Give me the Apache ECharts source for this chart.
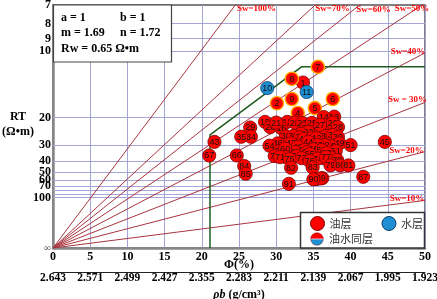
<!DOCTYPE html>
<html>
<head>
<meta charset="utf-8">
<script src="https://cdn.jsdelivr.net/npm/echarts@6.0.0/dist/echarts.min.js"></script>
<style>
html,body{margin:0;padding:0;background:#fff;}
#chart{width:437px;height:299px;}
</style>
</head>
<body>
<div id="chart"></div>
<script>
// Archie parameters shown in the box
const paramA = 1, paramB = 1, paramM = 1.69, paramN = 1.72, paramRw = 0.65;

// axis tick labels
const rhoLabels = ['2.643','2.571','2.499','2.427','2.355','2.283','2.211','2.139','2.067','1.995','1.923'];
const rtLabelValues = [7, 8, 9, 10, 20, 30, 40, 50, 60, 70, 100];
const rtGridValues = [8, 9, 10, 20, 30, 40, 50, 60, 70, 80, 90, 100];

// water saturation lines
const swValues = [100, 70, 60, 50, 40, 30, 20, 10];
const swLabelTexts = ['Sw=100%', 'Sw=70%', 'Sw=60%', 'Sw=50%', 'Sw=40%', 'Sw = 30%', 'Sw=20%', 'Sw=10%'];

// cutoff boundary (green)
const cutoffPhi = [21.1, 21.1, 33.4, 50];
const cutoffRt = [Infinity, 25.5, 11.5, 11.5];

// 油层 points
const oilIds = [1,2,3,4,5,6,7,8,9,12,13,14,15,16,17,18,19,20,21,22,23,24,25,26,27,28,29,30,31,32,33,34,35,36,37,38,39,40,41,42,43,44,45,46,47,48,49,50,51,52,53,54,55,56,57,58,59,60,61,62,63,64,65,66,67,68,69,70,71,72,73,74,75,76,77,78,79,80,81,82,83,84,85,86,87,88,89,90,91];
const oilPhi = [33.6,30.1,33.2,32.9,35.2,37.6,35.6,32.1,32.1,31.5,37.8,36.4,35.4,30.7,37.0,34.1,28.5,29.2,30.0,32.5,33.5,34.0,34.8,37.6,35.9,38.3,26.5,36.7,37.6,34.3,33.3,26.6,25.3,31.3,32.3,33.2,38.3,33.7,34.8,35.4,21.7,34.3,44.6,30.2,32.0,32.9,38.5,37.4,40.0,36.5,35.6,29.1,33.8,35.0,36.1,30.5,32.5,31.2,38.0,36.8,34.1,32.8,34.5,24.7,21.0,31.3,36.3,29.8,30.5,37.4,33.4,35.6,31.8,34.5,36.7,38.2,37.3,38.6,39.7,32.0,34.9,25.7,25.9,36.2,41.7,35.4,36.0,35.0,31.7];
const oilRt = [13.4,16.8,23.1,18.9,17.8,16.0,11.5,12.9,16.0,21.2,19.8,19.9,22.8,23.1,23.1,22.8,21.2,22.8,21.4,21.4,21.5,23.1,21.5,21.5,22.1,22.8,22.9,25.9,25.5,24.4,25.1,26.2,26.2,26.1,25.9,26.4,26.4,27.2,26.8,26.8,28.4,28.4,28.4,29.1,29.1,30.8,29.1,30.4,29.9,29.9,29.9,30.2,32.5,32.1,32.5,33.1,33.7,31.7,33.1,34.3,33.7,36.2,34.9,35.8,35.8,36.9,37.6,36.2,36.9,37.2,37.6,37.9,38.3,39.8,36.9,39.0,43.4,43.4,43.4,45.5,45.3,43.9,51.9,57.5,55.7,58.9,57.9,59.2,66.4];

// 水层 points
const waterIds = [10, 11];
const waterPhi = [28.8, 34.1];
const waterRt = [14.2, 14.8];

// 油水同层 points (none plotted)
const mixedIds = [];
const mixedPhi = [];
const mixedRt = [];

// points drawn with an orange rim
const outlinedIds = [2, 4, 5, 6, 7, 8, 9];

// ---- transforms (Hingle plot: y = Rt^(-1/m)) ----
const tr = rt => Math.pow(rt, -1 / paramM);
const yMax = tr(rtLabelValues[0]);
const swCoef = sw => Math.pow(Math.pow(sw / 100, paramN) / (paramA * paramB * paramRw), 1 / paramM);

const SERIF = '"Liberation Serif","Times New Roman",serif';
const SANS = '"Liberation Sans",Arial,sans-serif';

function pointSeries(name, ids, phis, rts, fill, stroke, z) {
  return {
    type: 'custom', name: name, coordinateSystem: 'cartesian2d', xAxisIndex: 0, yAxisIndex: 0,
    z: z, silent: true, clip: false,
    itemStyle: { color: fill },
    encode: { x: 0, y: 1 },
    data: ids.map((id, i) => [phis[i], tr(rts[i]), id]),
    renderItem: function (params, api) {
      const p = api.coord([api.value(0), api.value(1)]);
      const id = api.value(2);
      const k = params.dataIndex;
      const rim = outlinedIds.indexOf(id) >= 0;
      return {
        type: 'group',
        children: [
          { type: 'circle', shape: { cx: p[0], cy: p[1], r: 6.6 },
            style: { fill: fill, stroke: rim ? '#ffa800' : stroke, lineWidth: rim ? 1.4 : 0.8 }, z2: k * 2 },
          { type: 'text', x: p[0], y: p[1] + 0.5,
            style: { text: String(id), fill: '#111', fontSize: 9, fontFamily: SANS,
                     align: 'center', verticalAlign: 'middle', textAlign: 'center', textVerticalAlign: 'middle' },
            z2: k * 2 + 1 }
        ]
      };
    }
  };
}

const halfSvg = "<svg xmlns='http://www.w3.org/2000/svg' width='30' height='30'>" +
  "<path d='M1.5,15 A13.5,13.5 0 0 1 28.5,15 Z' fill='#ff0000'/>" +
  "<path d='M1.5,15 A13.5,13.5 0 0 0 28.5,15 Z' fill='#1f8fd4'/>" +
  "<line x1='1' y1='15' x2='29' y2='15' stroke='#ffffff' stroke-width='1.5'/>" +
  "<circle cx='15' cy='15' r='13.5' fill='none' stroke='#7a1010' stroke-width='1'/></svg>";
const halfIcon = 'image://data:image/svg+xml;base64,' + btoa(halfSvg);

const series = [];
// horizontal grid lines
series.push({
  type: 'lines', coordinateSystem: 'cartesian2d', silent: true, z: 1,
  lineStyle: { color: '#a6a6d6', width: 1, opacity: 1 },
  data: rtGridValues.map(r => ({ coords: [[0, tr(r)], [50, tr(r)]] }))
});
// Sw lines
swValues.forEach(sw => {
  series.push({
    type: 'line', silent: true, z: 2, symbol: 'none', clip: true,
    lineStyle: { color: '#a8343e', width: 1 },
    data: [[0, 0], [50, 0.5 * swCoef(sw)]]
  });
});
// cutoff line
series.push({
  type: 'line', silent: true, z: 3, symbol: 'none', clip: true,
  lineStyle: { color: '#1d5a1d', width: 1.5 },
  data: cutoffPhi.map((p, i) => [p, tr(cutoffRt[i])])
});
series.push(pointSeries('油层', oilIds, oilPhi, oilRt, '#ff0000', '#7a0000', 5));
series.push(pointSeries('水层', waterIds, waterPhi, waterRt, '#1f8fd4', '#0d3d66', 6));
series.push(pointSeries('油水同层', mixedIds, mixedPhi, mixedRt, '#ff0000', '#7a0000', 6));

// graphic annotations
const swLabelPos = [[256.5, 8.5], [332.5, 8.5], [373.5, 10], [412, 8.5], [408, 52], [407.5, 100], [406.5, 150.5], [407, 199]];
const graphics = [];
graphics.push({ type: 'rect', z: 10, shape: { x: 53.5, y: 5, width: 118, height: 57 },
  style: { fill: '#fff', stroke: '#444', lineWidth: 1.2 } });
const paramTexts = [
  ['a = ' + paramA, 61, 18], ['b = ' + paramB, 120, 18],
  ['m = ' + paramM, 61, 33], ['n = ' + paramN, 120, 33],
  ['Rw = ' + paramRw + ' Ω•m', 61, 49]
];
paramTexts.forEach(t => graphics.push({ type: 'text', z: 11, x: t[1], y: t[2],
  style: { text: t[0], fill: '#000', font: 'bold 12px ' + SERIF, align: 'left', verticalAlign: 'middle', textAlign: 'left', textVerticalAlign: 'middle' } }));
swLabelTexts.forEach((t, i) => graphics.push({ type: 'text', z: 11, x: swLabelPos[i][0], y: swLabelPos[i][1],
  style: { text: t, fill: '#ff0000', font: 'bold 9px ' + SERIF, align: 'center', verticalAlign: 'middle', textAlign: 'center', textVerticalAlign: 'middle' } }));
graphics.push({ type: 'text', z: 11, x: 18, y: 117,
  style: { text: 'RT', fill: '#000', font: 'bold 12px ' + SERIF, align: 'center', verticalAlign: 'middle', textAlign: 'center', textVerticalAlign: 'middle' } });
graphics.push({ type: 'text', z: 11, x: 18, y: 132,
  style: { text: '(Ω•m)', fill: '#000', font: 'bold 12px ' + SERIF, align: 'center', verticalAlign: 'middle', textAlign: 'center', textVerticalAlign: 'middle' } });
graphics.push({ type: 'rect', z: 10, shape: { x: 300.5, y: 212.5, width: 124, height: 35.5 },
  style: { fill: '#fff', stroke: '#333', lineWidth: 1.5 } });

const legendText = { fontFamily: '"Noto Sans CJK SC",sans-serif', fontSize: 11, color: '#333' };

const chart = echarts.init(document.getElementById('chart'), null, { renderer: 'canvas' });
chart.setOption({
  animation: false,
  backgroundColor: '#fff',
  grid: { left: 53, right: 12, top: 5, bottom: 51, show: true, borderColor: '#555', borderWidth: 1.5,
          backgroundColor: '#fff', containLabel: false, outerBoundsMode: 'none' },
  xAxis: [
    { type: 'value', min: 0, max: 50, interval: 5, position: 'bottom',
      axisLine: { show: true, onZero: false, lineStyle: { color: '#888', width: 2.5 } },
      axisTick: { show: false },
      splitLine: { show: true, lineStyle: { color: '#a6a6d6', width: 1 } },
      axisLabel: { margin: 3, color: '#000', fontWeight: 'bold', fontSize: 12, fontFamily: SERIF },
      name: 'Φ(%)', nameLocation: 'middle', nameGap: 11, nameMoveOverlap: false,
      nameTextStyle: { color: '#000', fontWeight: 'bold', fontSize: 12, fontFamily: SERIF } },
    { type: 'value', min: 0, max: 50, interval: 5, position: 'bottom', offset: 24,
      axisLine: { show: true, onZero: false, lineStyle: { color: '#222', width: 1 } },
      axisTick: { show: false }, splitLine: { show: false },
      axisLabel: { margin: 0, color: '#000', fontWeight: 'bold', fontSize: 11.5, fontFamily: SERIF,
        formatter: v => rhoLabels[Math.round(v / 5)] },
      name: '{i|ρb} (g/cm³)', nameLocation: 'middle', nameGap: 17,
      nameTextStyle: { color: '#000', fontWeight: 'bold', fontSize: 12, fontFamily: SERIF,
        rich: { i: { fontStyle: 'italic', fontWeight: 'bold', fontSize: 12, fontFamily: SERIF, color: '#000' } } } }
  ],
  yAxis: {
    type: 'value', min: 0, max: yMax,
    axisLine: { show: true, onZero: false, lineStyle: { color: '#888', width: 2.5 } },
    axisTick: { show: false }, splitLine: { show: false },
    axisLabel: {
      customValues: [0].concat(rtLabelValues.map(tr)),
      hideOverlap: false,
      margin: 2, color: '#000', fontWeight: 'bold', fontSize: 12, fontFamily: SERIF,
      formatter: v => v < 1e-9 ? '{inf|∞}' : String(Math.round(Math.pow(v, -paramM))),
      rich: { inf: { fontSize: 10, color: '#555', fontWeight: 'normal', fontFamily: SERIF } }
    }
  },
  legend: [
    { data: [
        { name: '油层', icon: 'circle', itemStyle: { color: '#ff0000', borderColor: '#7a0000', borderWidth: 1 } },
        { name: '水层', icon: 'circle', itemStyle: { color: '#1f8fd4', borderColor: '#0d3d66', borderWidth: 1 } }
      ],
      left: 310, top: 216, itemWidth: 14, itemHeight: 14, itemGap: 30, padding: 0,
      selectedMode: false, z: 20, textStyle: legendText },
    { data: [{ name: '油水同层', icon: halfIcon }],
      left: 310, top: 232, itemWidth: 14, itemHeight: 14, padding: 0,
      selectedMode: false, z: 20, textStyle: legendText }
  ],
  graphic: { elements: graphics },
  series: series
});
</script>
</body>
</html>
